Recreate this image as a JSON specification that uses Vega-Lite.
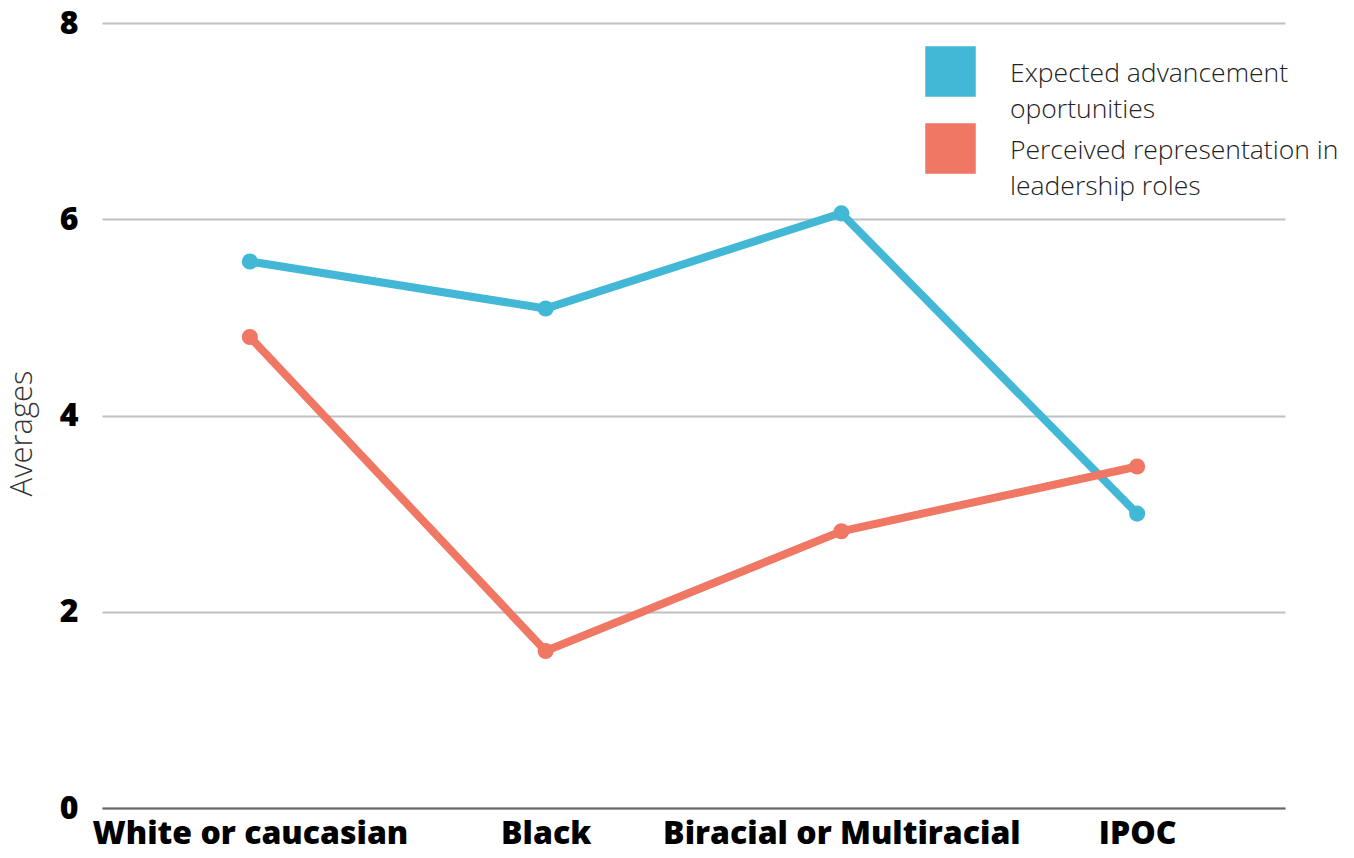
{
  "$schema": "https://vega.github.io/schema/vega-lite/v6.json",
  "width": 1183,
  "height": 785,
  "autosize": {"type": "none"},
  "padding": {"left": 102, "top": 23, "right": 69, "bottom": 50},
  "background": "white",
  "config": {"view": {"stroke": null}},
  "data": {
    "values": [
      {"group": "White or caucasian", "series": "Expected advancement oportunities", "value": 5.57},
      {"group": "Black", "series": "Expected advancement oportunities", "value": 5.09},
      {"group": "Biracial or Multiracial", "series": "Expected advancement oportunities", "value": 6.06},
      {"group": "IPOC", "series": "Expected advancement oportunities", "value": 3.0},
      {"group": "White or caucasian", "series": "Perceived representation in leadership roles", "value": 4.8},
      {"group": "Black", "series": "Perceived representation in leadership roles", "value": 1.6},
      {"group": "Biracial or Multiracial", "series": "Perceived representation in leadership roles", "value": 2.82},
      {"group": "IPOC", "series": "Perceived representation in leadership roles", "value": 3.48}
    ]
  },
  "encoding": {
    "x": {
      "field": "group",
      "type": "nominal",
      "sort": ["White or caucasian", "Black", "Biracial or Multiracial", "IPOC"],
      "scale": {"type": "point", "padding": 0.5},
      "axis": {
        "title": null,
        "labelAngle": 0,
        "labelFont": "Open Sans",
        "labelFontWeight": 800,
        "labelFontSize": 32,
        "labelColor": "#000000",
        "labelPadding": 10,
        "labelLimit": 600,
        "ticks": false,
        "domainColor": "#666666",
        "domainWidth": 2,
        "grid": false
      }
    },
    "y": {
      "field": "value",
      "type": "quantitative",
      "scale": {"domain": [0, 8]},
      "axis": {
        "title": "Averages",
        "titleFont": "Open Sans",
        "titleFontWeight": 300,
        "titleFontSize": 31,
        "titleColor": "#333333",
        "titleX": -80,
        "titleY": 410,
        "titleAngle": -90,
        "titleAlign": "center",
        "titleBaseline": "middle",
        "values": [0, 2, 4, 6, 8],
        "format": "d",
        "labelFont": "Open Sans",
        "labelFontWeight": 800,
        "labelFontSize": 32,
        "labelColor": "#000000",
        "labelPadding": 24,
        "ticks": false,
        "domain": false,
        "grid": true,
        "gridColor": "#c0c0c0",
        "gridWidth": 2
      }
    }
  },
  "layer": [
    {
      "mark": {"type": "line", "strokeWidth": 8},
      "encoding": {
        "color": {
          "field": "series",
          "type": "nominal",
          "scale": {"domain": ["Expected advancement oportunities", "Perceived representation in leadership roles"], "range": ["#42b8d6", "#ef7763"]},
          "legend": {
            "title": null,
            "orient": "none",
            "legendX": 823,
            "legendY": 23,
            "symbolType": "square",
            "symbolSize": 2550,
            "symbolOpacity": 1,
            "symbolStrokeWidth": 0,
            "labelFont": "Open Sans",
            "labelFontWeight": 300,
            "labelFontSize": 26.5,
            "labelColor": "#222222",
            "labelOffset": 34,
            "labelLimit": 500,
            "labelBaseline": "middle",
            "rowPadding": 0,
            "labelExpr": "datum.label == 'Expected advancement oportunities' ? ['Expected advancement', 'oportunities'] : ['Perceived representation in', 'leadership roles']",
            "encode": {
              "labels": {"update": {"lineHeight": {"value": 36}, "dy": {"value": 2}}}
            }
          }
        }
      }
    },
    {
      "mark": {"type": "point", "filled": true, "size": 260, "opacity": 1},
      "encoding": {
        "color": {"field": "series", "type": "nominal"}
      }
    }
  ]
}
